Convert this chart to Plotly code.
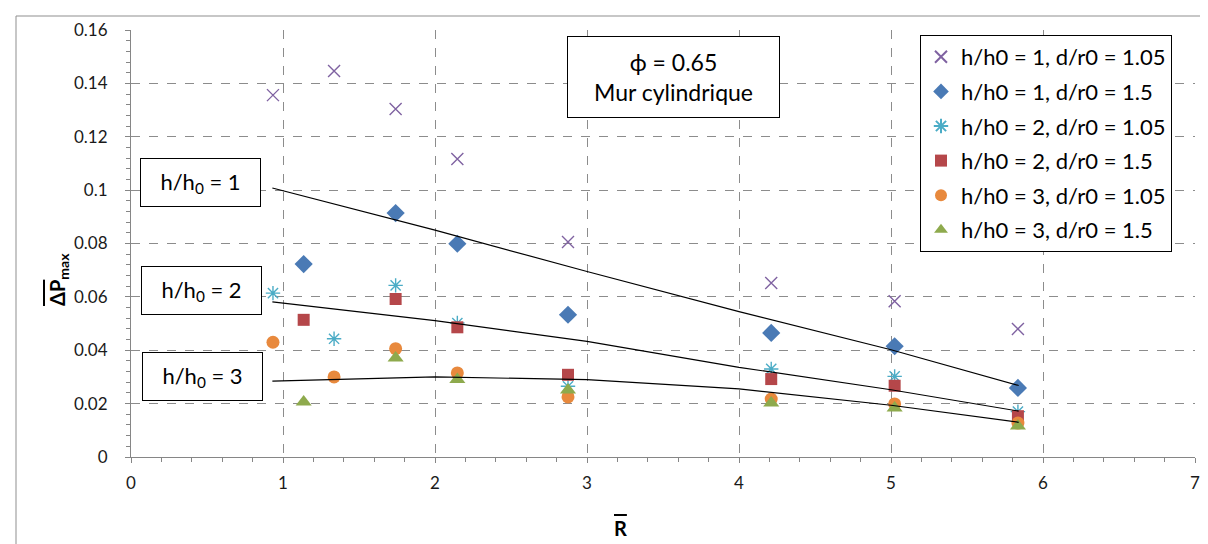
import plotly.graph_objects as go

# ---------------- data ----------------
x_a = [0.934, 1.336, 1.741, 2.147, 2.875, 4.212, 5.024, 5.835]          # d/r0 = 1.05 series
x_b = [1.136, 1.741, 2.147, 2.875, 4.212, 5.024, 5.835]                 # d/r0 = 1.5 series

y_h1_d105 = [0.1356, 0.1446, 0.1304, 0.1117, 0.0806, 0.0652, 0.0584, 0.0480]
y_h1_d15 = [0.0723, 0.0914, 0.0799, 0.0533, 0.0465, 0.0415, 0.0259]
y_h2_d105 = [0.0614, 0.0443, 0.0643, 0.0502, 0.0265, 0.0330, 0.0302, 0.0170]
y_h2_d15 = [0.0514, 0.0592, 0.0486, 0.0308, 0.0292, 0.0267, 0.0153]
y_h3_d105 = [0.0430, 0.0300, 0.0406, 0.0315, 0.0225, 0.0217, 0.0199, 0.0127]
y_h3_d15 = [0.0206, 0.0371, 0.0290, 0.0251, 0.0202, 0.0184, 0.0116]

# trend lines
trend_x = [0.93, 2.0, 3.0, 4.0, 5.0, 5.84]
trend_h1 = [0.1008, 0.0850, 0.0695, 0.0545, 0.0402, 0.0268]
trend_h2 = [0.0581, 0.0511, 0.0433, 0.0336, 0.0252, 0.0172]
trend_h3 = [0.0284, 0.0300, 0.0290, 0.0255, 0.0194, 0.0130]

names = ["h/h0 = 1, d/r0 = 1.05", "h/h0 = 1, d/r0 = 1.5", "h/h0 = 2, d/r0 = 1.05",
         "h/h0 = 2, d/r0 = 1.5", "h/h0 = 3, d/r0 = 1.05", "h/h0 = 3, d/r0 = 1.5"]
box_labels = ["h/h<sub>0</sub> = 1", "h/h<sub>0</sub> = 2", "h/h<sub>0</sub> = 3"]
x_ticks = [0, 1, 2, 3, 4, 5, 6, 7]
y_ticks = [0, 0.02, 0.04, 0.06, 0.08, 0.1, 0.12, 0.14, 0.16]
y_tick_text = ["0", "0.02", "0.04", "0.06", "0.08", "0.1", "0.12", "0.14", "0.16"]

FONT = "Lato"

# plot area in pixels
L, R, T, B = 123, 1187, 22, 449
W, H = 1208, 544


def px(xp):
    return (xp - L) / (R - L)


def py(yp):
    return (B - yp) / (B - T)


fig = go.Figure()

series = [
    (x_a, y_h1_d105, dict(symbol="x-thin", size=12, color="#7F62A1", line=dict(color="#7F62A1", width=1.4))),
    (x_b, y_h1_d15, dict(symbol="diamond", size=14, color="#4A7AB5", line=dict(width=0))),
    (x_a, y_h2_d105, dict(symbol="asterisk", size=12, color="#4BACC6", line=dict(color="#4BACC6", width=1.4))),
    (x_b, y_h2_d15, dict(symbol="square", size=12, color="#B5474A", line=dict(width=0))),
    (x_a, y_h3_d105, dict(symbol="circle", size=13, color="#E8893D", line=dict(width=0))),
    (x_b, y_h3_d15, dict(symbol="triangle-up", size=14, color="#8EAA4D", line=dict(width=0))),
]
for i, (xs, ys, mk) in enumerate(series):
    fig.add_trace(go.Scatter(x=xs, y=ys, mode="markers", name=names[i], marker=mk,
                             legendgroup=str(i)))

for ty in (trend_h1, trend_h2, trend_h3):
    fig.add_trace(go.Scatter(x=trend_x, y=ty, mode="lines", showlegend=False,
                             line=dict(color="black", width=1.2), hoverinfo="skip"))

axis_common = dict(
    showline=True, linecolor="#868686", linewidth=1,
    showgrid=True, gridcolor="#8C8C8C", griddash="dash", gridwidth=1,
    zeroline=False, ticks="outside", ticklen=5, tickcolor="#868686",
    tickfont=dict(family=FONT, size=17, color="#1a1a1a"),
    mirror=False,
)

fig.update_xaxes(range=[0, 7], tickvals=x_ticks, ticklabelstandoff=6, **axis_common,
                 minor=dict(dtick=0.2, ticks="outside", ticklen=4, tickcolor="#868686", showgrid=False))
fig.update_yaxes(range=[0, 0.16], tickvals=y_ticks, ticktext=y_tick_text, ticklabelstandoff=14,
                 **axis_common,
                 minor=dict(dtick=0.004, ticks="outside", ticklen=4, tickcolor="#868686", showgrid=False))

annotations = []
box_centers = [(192.5, 174.5), (193.5, 282), (194.5, 368.5)]
for lab, (cx, cy) in zip(box_labels, box_centers):
    annotations.append(dict(x=px(cx), y=py(cy), xref="paper", yref="paper", text=lab,
                            showarrow=False, width=119, height=47, borderpad=0,
                            bordercolor="black", borderwidth=1, bgcolor="white",
                            font=dict(family=FONT, size=22, color="black"),
                            xanchor="center", yanchor="middle"))
annotations.append(dict(x=px(665.5), y=py(69), xref="paper", yref="paper",
                        text="ϕ = 0.65<br>Mur cylindrique", showarrow=False,
                        width=211, height=80, borderpad=0, bordercolor="black", borderwidth=1,
                        bgcolor="white", font=dict(family=FONT, size=23, color="black"),
                        xanchor="center", yanchor="middle"))
# axis titles
annotations.append(dict(x=px(50), y=py(272), xref="paper", yref="paper",
                        text="<b><span style='text-decoration:overline'>ΔP</span><sub>max</sub></b>",
                        textangle=-90, showarrow=False, font=dict(family=FONT, size=20, color="black"),
                        xanchor="center", yanchor="middle"))
annotations.append(dict(x=px(612), y=py(520), xref="paper", yref="paper",
                        text="<b><span style='text-decoration:overline'>R</span></b>",
                        showarrow=False, font=dict(family=FONT, size=20, color="black"),
                        xanchor="center", yanchor="middle"))

shapes = [dict(type="rect", xref="paper", yref="paper", x0=px(8), x1=px(1200), y0=py(539), y1=py(8),
               line=dict(color="#8F8F8F", width=1), layer="below")]

fig.update_layout(
    width=W, height=H,
    margin=dict(l=L, r=W - R, t=T, b=H - B, pad=0),
    paper_bgcolor="white", plot_bgcolor="white",
    showlegend=True,
    legend=dict(x=px(912), y=py(27), xanchor="left", yanchor="top",
                bordercolor="black", borderwidth=1, bgcolor="white",
                font=dict(family=FONT, size=22, color="black"),
                tracegroupgap=3, traceorder="grouped", itemsizing="constant"),
    annotations=annotations, shapes=shapes,
    font=dict(family=FONT),
)

fig.write_html("out.html")
